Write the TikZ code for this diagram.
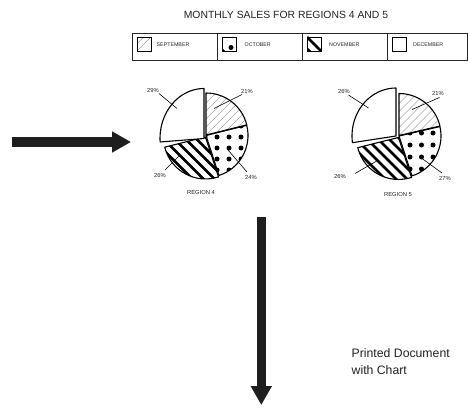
\documentclass[tikz,border=0pt]{standalone}
\usepackage{fontspec}
\setmainfont{Liberation Sans}
\usetikzlibrary{arrows.meta}
\definecolor{arrowc}{HTML}{1E1E1E}
\definecolor{hatchc}{HTML}{A8A8A8}
\definecolor{txtc}{HTML}{222222}
\begin{document}
\begin{tikzpicture}[x=1pt,y=1pt,
  pieedge/.style={draw=black,line width=1.1pt,line join=round},
  leader/.style={draw=black,line width=0.6pt},
  septline/.style={draw=hatchc,line width=0.6pt},
  novline/.style={draw=black,line width=2.8pt},
  pct/.style={font=\fontsize{5.8}{6}\selectfont,text=txtc,inner sep=0pt},
  leglabel/.style={font=\fontsize{5.3}{6}\selectfont,text=txtc,inner sep=0pt,anchor=base west},
  legbox/.style={draw=black!85,line width=1pt},
  swatch/.style={draw=black,line width=0.8pt},
  bigarrow/.style={draw=arrowc,line width=9.3pt,-{Triangle[length=19pt,width=20pt]}}]
\useasboundingbox (0,0) rectangle (468,-409);

% ---------- title ----------
\node[font=\fontsize{10.4}{12}\selectfont,text=txtc,anchor=base,inner sep=0pt] (title) at (286,-18.3) {MONTHLY SALES FOR REGIONS 4 AND 5};

% ---------- legend ----------
\draw[legbox] (132,-34) rectangle (467,-61);
\draw[legbox] (217.5,-34) -- (217.5,-61);
\draw[legbox] (302.5,-34) -- (302.5,-61);
\draw[legbox] (387,-34) -- (387,-61);
% september swatch
\begin{scope}
\clip (137,-37) rectangle (151,-51);
\draw[septline] (137,-51) -- (151,-37);
\draw[septline] (137,-43.5) -- (144,-37);
\end{scope}
\draw[swatch] (137,-37) rectangle (151,-51);
% october swatch
\begin{scope}
\clip (222,-37) rectangle (236,-51);
\fill (231,-47.5) circle (2.5);
\fill (222,-51) -- (225,-51) -- (222,-48) -- cycle;
\end{scope}
\draw[swatch] (222,-37) rectangle (236,-51);
% november swatch
\begin{scope}
\clip (307,-37) rectangle (321,-51);
\draw[novline] (307,-37) -- (321,-51);
\fill (307,-51) -- (311,-51) -- (307,-47) -- cycle;
\end{scope}
\draw[swatch] (307,-37) rectangle (321,-51);
% december swatch
\draw[swatch] (392,-37) rectangle (406,-51);
\node[leglabel] (lsep) at (156.5,-47) {SEPTEMBER};
\node[leglabel] (loct) at (244.5,-47) {OCTOBER};
\node[leglabel] (lnov) at (329,-47) {NOVEMBER};
\node[leglabel] (ldec) at (413,-47) {DECEMBER};

% ---------- pie region 4 ----------
\begin{scope}
\clip (206,-135) -- ++(90:42) arc[start angle=90,end angle=14,radius=42] -- cycle;
\foreach \i in {-96,-88,...,96} \draw[septline] (206+\i-50,-135-50) -- ++(100,100);
\end{scope}
\draw[pieedge] (206,-135) -- ++(90:42) arc[start angle=90,end angle=14,radius=42] -- cycle;
\begin{scope}
\clip (206,-135.5) -- ++(14:42) arc[start angle=14,end angle=-72,radius=42] -- cycle;
\foreach \a in {0,...,4} \foreach \b in {0,...,5} \fill (205+\a*12,-126-\b*11) circle (2.5);
\end{scope}
\draw[pieedge] (206,-135.5) -- ++(14:42) arc[start angle=14,end angle=-72,radius=42] -- cycle;
\begin{scope}
\clip (205.5,-137) -- ++(-72:42) arc[start angle=-72,end angle=-166,radius=42] -- cycle;
\foreach \i in {-110,-99,...,110} \draw[novline] (205.5+\i-60,-137+60) -- ++(120,-120);
\end{scope}
\draw[pieedge] (205.5,-137) -- ++(-72:42) arc[start angle=-72,end angle=-166,radius=42] -- cycle;
\draw[pieedge,fill=white] (204,-138.5) -- ++(184:44 and 50) arc[start angle=184,end angle=90,x radius=44,y radius=50] -- cycle;

\node[pct] (r4a) at (153,-91) {29\%};
\node[pct] (r4b) at (247,-91) {21\%};
\node[pct] (r4c) at (160,-176) {26\%};
\node[pct] (r4d) at (251,-177) {24\%};
\coordinate (r4ae) at (177,-108.5);
\coordinate (r4be) at (214,-108.5);
\coordinate (r4ce) at (180,-155);
\coordinate (r4de) at (228,-150);
\draw[leader] (159,-93.5) -- (r4ae);
\draw[leader] (242,-94.5) -- (r4be);
\draw[leader] (165,-170) -- (r4ce);
\draw[leader] (247,-172) -- (r4de);
\node[pct] (reg4) at (201,-193) {REGION 4};

% ---------- pie region 5 ----------
\begin{scope}
\clip (399,-135.5) -- ++(90:42) arc[start angle=90,end angle=13,radius=42] -- cycle;
\foreach \i in {-96,-88,...,96} \draw[septline] (399+\i-50,-135.5-50) -- ++(100,100);
\end{scope}
\draw[pieedge] (399,-135.5) -- ++(90:42) arc[start angle=90,end angle=13,radius=42] -- cycle;
\begin{scope}
\clip (399,-136) -- ++(13:42) arc[start angle=13,end angle=-72,radius=42] -- cycle;
\foreach \a in {0,...,4} \foreach \b in {0,...,5} \fill (398.5+\a*11.5,-121-\b*12) circle (2.5);
\end{scope}
\draw[pieedge] (399,-136) -- ++(13:42) arc[start angle=13,end angle=-72,radius=42] -- cycle;
\begin{scope}
\clip (398.5,-137.5) -- ++(-72:42) arc[start angle=-72,end angle=-166,radius=42] -- cycle;
\foreach \i in {-110,-99,...,110} \draw[novline] (398.5+\i-60,-137.5+60) -- ++(120,-120);
\end{scope}
\draw[pieedge] (398.5,-137.5) -- ++(-72:42) arc[start angle=-72,end angle=-166,radius=42] -- cycle;
\draw[pieedge,fill=white] (396,-136) -- ++(188:44 and 48) arc[start angle=188,end angle=90,x radius=44,y radius=48] -- cycle;

\node[pct] (r5a) at (344,-92) {26\%};
\node[pct] (r5b) at (438,-93.5) {21\%};
\node[pct] (r5c) at (340,-177) {26\%};
\node[pct] (r5d) at (445,-178) {27\%};
\coordinate (r5ae) at (368.5,-108);
\coordinate (r5be) at (412,-109.5);
\coordinate (r5ce) at (378.5,-160);
\coordinate (r5de) at (422,-158.5);
\draw[leader] (348.5,-95) -- (r5ae);
\draw[leader] (439.5,-97.5) -- (r5be);
\draw[leader] (355,-173.5) -- (r5ce);
\draw[leader] (442,-173) -- (r5de);
\node[pct] (reg5) at (398,-194.5) {REGION 5};

% ---------- arrows ----------
\coordinate (la) at (11.5,-142);
\coordinate (lb) at (131,-142);
\draw[bigarrow] (la) -- (lb);
\coordinate (da) at (261.3,-216.7);
\coordinate (db) at (261.3,-405);
\draw[bigarrow] (da) -- (db);

\node[font=\fontsize{12.25}{17}\selectfont,text=txtc,align=left,anchor=base west,inner sep=0pt] (doc) at (351.5,-374) {Printed Document\\with Chart};
\end{tikzpicture}
\end{document}
